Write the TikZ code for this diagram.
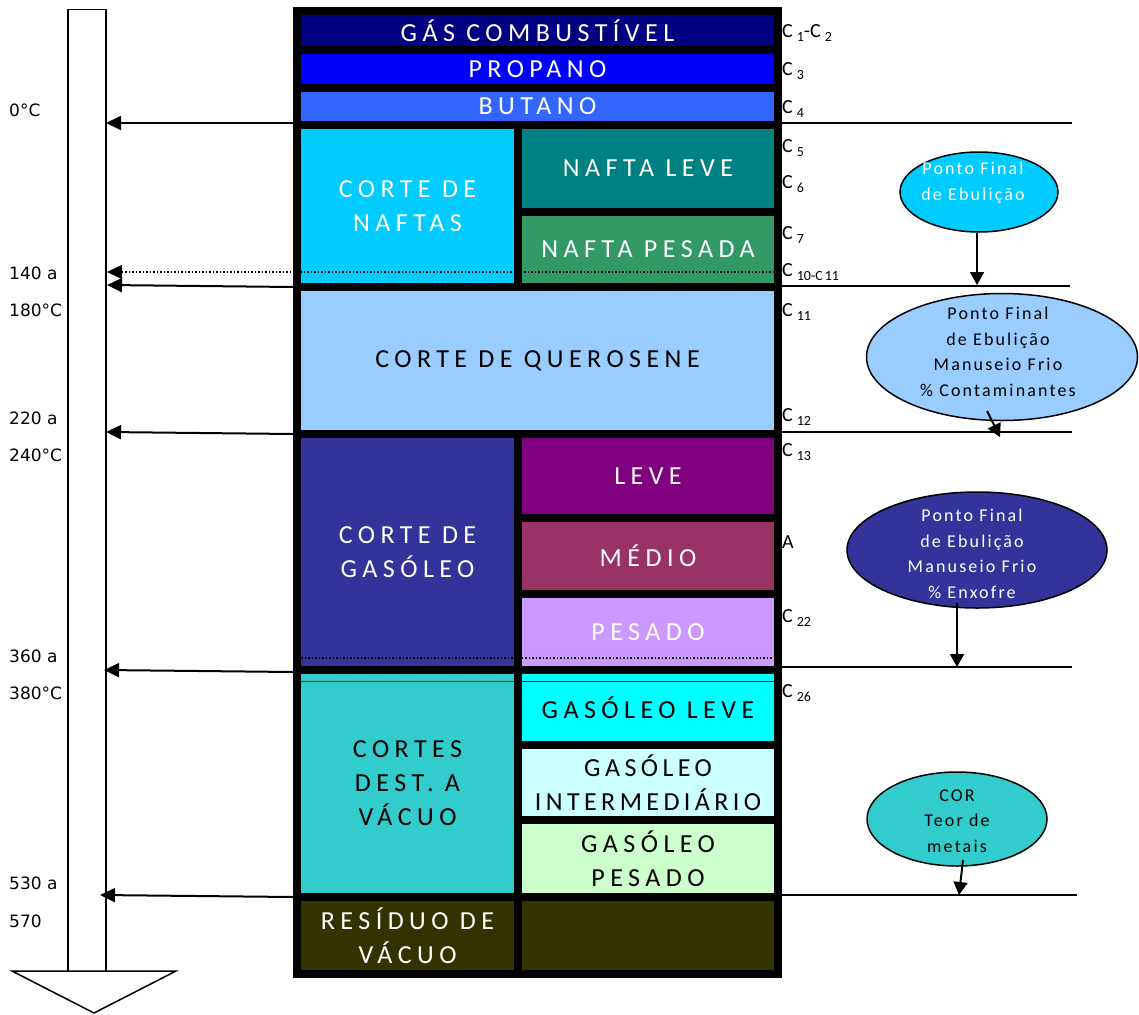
\documentclass[tikz,border=0pt]{standalone}
\usepackage{fontspec}
\setmainfont{Carlito}
\newfontfamily\boxfont[LetterSpace=21]{Carlito}
\newfontfamily\boxfontn[LetterSpace=17]{Carlito}
\newfontfamily\ellfont[LetterSpace=12]{Carlito}
\newfontfamily\tempfont{DejaVu Sans}
\usetikzlibrary{arrows.meta,shapes.geometric}
\definecolor{cGas}{HTML}{000080}
\definecolor{cProp}{HTML}{0000FF}
\definecolor{cBut}{HTML}{3366FF}
\definecolor{cNaf}{HTML}{00CCFF}
\definecolor{cNafL}{HTML}{008080}
\definecolor{cNafP}{HTML}{339966}
\definecolor{cQue}{HTML}{99CCFF}
\definecolor{cGso}{HTML}{333399}
\definecolor{cLev}{HTML}{800080}
\definecolor{cMed}{HTML}{993366}
\definecolor{cPes}{HTML}{CC99FF}
\definecolor{cVac}{HTML}{33CCCC}
\definecolor{cGL}{HTML}{00FFFF}
\definecolor{cGI}{HTML}{CCFFFF}
\definecolor{cGP}{HTML}{CCFFCC}
\definecolor{cRes}{HTML}{333300}
\newcommand\sbs[1]{\kern4pt\raisebox{-0.35ex}{\fontsize{14}{14}\selectfont #1}}
\begin{document}
\begin{tikzpicture}[x=1pt,y=-1pt,
  bx/.style={anchor=north west, inner sep=0pt, outer sep=0pt, align=center, font=\boxfont\fontsize{26}{34}\selectfont},
  temp/.style={anchor=west, inner sep=0pt, font=\tempfont\fontsize{17}{20}\selectfont},
  clab/.style={anchor=west, inner sep=0pt, font=\fontsize{20}{22}\selectfont},
  ell/.style={ellipse, draw=black, line width=1.5pt, inner sep=0pt},
  etext/.style={align=center, inner sep=0pt, font=\ellfont\fontsize{18}{25.5}\selectfont},
  harrow/.style={line width=2pt, -{Triangle[length=15pt,width=14pt]}},
  earrow/.style={line width=2pt, -{Triangle[length=13pt,width=14pt]}},
  rline/.style={line width=1.5pt},
  dotl/.style={line width=1.5pt, dash pattern=on 1.5pt off 2pt}
]
\useasboundingbox (0,0) rectangle (1139,1014);
\fill[white] (0,0) rectangle (1139,1014);

% frame
\node[fill=black, inner sep=0pt, outer sep=0pt, minimum width=489, minimum height=971, anchor=north west] (frame) at (293,7) {};

% full-width bars
\node[bx, fill=cGas, text=white, minimum width=473, minimum height=31] (gas) at (301,15) {GÁS COMBUSTÍVEL};
\node[bx, fill=cProp, text=white, minimum width=473, minimum height=30] (prop) at (301,54) {PROPANO};
\node[bx, fill=cBut, text=white, minimum width=473, minimum height=29] (but) at (301,92) {BUTANO};
% naftas
\node[bx, fill=cNaf, text=white, minimum width=213, minimum height=154] (naf) at (301,129) {CORTE DE\\NAFTAS};
\node[bx, fill=cNafL, text=white, minimum width=252, minimum height=79] (nafl) at (522,129) {NAFTA LEVE};
\node[bx, fill=cNafP, text=white, minimum width=252, minimum height=67] (nafp) at (522,216) {NAFTA PESADA};
% querosene
\node[bx, fill=cQue, text=black, minimum width=473, minimum height=139] (que) at (301,291) {CORTE DE QUEROSENE};
% gasoleo
\node[bx, fill=cGso, text=white, minimum width=213, minimum height=228] (gso) at (301,438) {CORTE DE\\GASÓLEO};
\node[bx, fill=cLev, text=white, minimum width=252, minimum height=76] (lev) at (522,438) {LEVE};
\node[bx, fill=cMed, text=white, minimum width=252, minimum height=68] (med) at (522,522) {MÉDIO};
\node[bx, fill=cPes, text=white, minimum width=252, minimum height=68] (pes) at (522,598) {PESADO};
% vacuo
\node[bx, fill=cVac, text=black, minimum width=213, minimum height=219] (vac) at (301,674) {CORTES\\DEST. A\\VÁCUO};
\node[bx, fill=cGL, text=black, minimum width=252, minimum height=67] (gl) at (522,674) {GASÓLEO LEVE};
\node[bx, fill=cGI, text=black, minimum width=252, minimum height=67, font=\boxfontn\fontsize{26}{34}\selectfont] (gi) at (522,749) {GASÓLEO\\INTERMEDIÁRIO};
\node[bx, fill=cGP, text=black, minimum width=252, minimum height=69] (gp) at (522,824) {GASÓLEO\\PESADO};
% residuo
\node[bx, fill=cRes, text=white, minimum width=213, minimum height=69] (res) at (301,901) {RESÍDUO DE\\VÁCUO};
\node[bx, fill=cRes, minimum width=252, minimum height=69] (resr) at (522,901) {};

% thin line in vacuum boxes
\draw[line width=1pt, black!85] (vac.west |- 0,681) -- (vac.east |- 0,681);
\draw[line width=1pt, black!85] (gl.west |- 0,681) -- (gl.east |- 0,681);
% dotted line in gasoleo
\draw[dotl] (gso.west |- 0,658) -- (pes.east |- 0,658);

% temperature column
\node[draw=black, line width=1.5pt, fill=white, inner sep=0pt, minimum width=38, minimum height=962, anchor=north west] (col) at (67,9) {};
\coordinate (tl) at (12,971);
\coordinate (tr) at (176,971);
\coordinate (tb) at (94,1013);
\draw[line width=1.5pt, fill=white, line join=miter] (tl) -- (tr) -- (tb) -- cycle;

% arrows to column
\coordinate (a0s) at (293,123); \coordinate (a0e) at (106,123);
\coordinate (d1s) at (774,272); \coordinate (d1e) at (107,272);
\coordinate (a2s) at (293,287); \coordinate (a2e) at (107,285);
\coordinate (a3s) at (293,434); \coordinate (a3e) at (106,432);
\coordinate (a4s) at (293,672); \coordinate (a4e) at (104,670);
\coordinate (a5s) at (293,897); \coordinate (a5e) at (100,895);
\draw[harrow] (a0s) -- (a0e);
\draw[harrow, dotl] (d1s) -- (d1e);
\draw[harrow] (a2s) -- (a2e);
\draw[harrow] (a3s) -- (a3e);
\draw[harrow] (a4s) -- (a4e);
\draw[harrow] (a5s) -- (a5e);

% right lines
\coordinate (r1s) at (782,123); \coordinate (r1e) at (1072,123);
\coordinate (r2s) at (782,286); \coordinate (r2e) at (1070,286);
\coordinate (r3s) at (782,432); \coordinate (r3e) at (1072,432);
\coordinate (r4s) at (782,667); \coordinate (r4e) at (1072,667);
\coordinate (r5s) at (782,895); \coordinate (r5e) at (1077,895);
\draw[rline] (r1s) -- (r1e);
\draw[rline] (r2s) -- (r2e);
\draw[rline] (r3s) -- (r3e);
\draw[rline] (r4s) -- (r4e);
\draw[rline] (r5s) -- (r5e);

% temperature labels
\node[temp] (t0) at (9,110) {0°C};
\node[temp] (t1) at (9,273) {140 a};
\node[temp] (t2) at (9,310) {180°C};
\node[temp] (t3) at (9,418) {220 a};
\node[temp] (t4) at (9,455) {240°C};
\node[temp] (t5) at (9,656) {360 a};
\node[temp] (t6) at (9,693) {380°C};
\node[temp] (t7) at (9,883) {530 a};
\node[temp] (t8) at (9,921) {570};

% carbon labels
\node[clab] (c1) at (782,33) {C\sbs{1}-C\sbs{2}};
\node[clab] (c3) at (782,71) {C\sbs{3}};
\node[clab] (c4) at (782,109) {C\sbs{4}};
\node[clab] (c5) at (782,148) {C\sbs{5}};
\node[clab] (c6) at (782,184) {C\sbs{6}};
\node[clab] (c7) at (782,235) {C\sbs{7}};
\node[clab] (c10) at (782,272) {C\sbs{10-C\kern2pt 11}};
\node[clab] (c11) at (782,312) {C\sbs{11}};
\node[clab] (c12) at (782,417) {C\sbs{12}};
\node[clab] (c13) at (782,452) {C\sbs{13}};
\node[clab] (ca) at (782,542) {A};
\node[clab] (c22) at (782,618) {C\sbs{22}};
\node[clab] (c26) at (782,693) {C\sbs{26}};

% ellipses
\node[ell, fill=cNaf, minimum width=158, minimum height=80] (e1) at (979,192) {};
\node[etext, text=white] (e1t) at (973,183) {Ponto Final\\de Ebulição};
\node[ell, fill=cQue, minimum width=271, minimum height=127] (e2) at (1002,357) {};
\node[etext, text=black] (e2t) at (998,352) {Ponto Final\\de Ebulição\\Manuseio Frio\\\% Contaminantes};
\node[ell, fill=cGso, minimum width=260, minimum height=116] (e3) at (977,550) {};
\node[etext, text=white] (e3t) at (972,554) {Ponto Final\\de Ebulição\\Manuseio Frio\\\% Enxofre};
\node[ell, fill=cVac, minimum width=180, minimum height=94] (e4) at (957,819) {};
\node[etext, text=black] (e4t) at (957,821) {COR\\Teor de\\metais};

% ellipse arrows
\coordinate (e1a) at (977,285);
\draw[earrow] (e1.south -| e1a) -- (e1a);
\coordinate (e2s) at (987,411); \coordinate (e2a) at (1000,437);
\draw[earrow] (e2s) -- (e2a);
\coordinate (e3s) at (957,603); \coordinate (e3a) at (957,667);
\draw[earrow] (e3s) -- (e3a);
\coordinate (e4s) at (963,860); \coordinate (e4a) at (959,895);
\draw[earrow] (e4s) -- (e4a);
\end{tikzpicture}
\end{document}
